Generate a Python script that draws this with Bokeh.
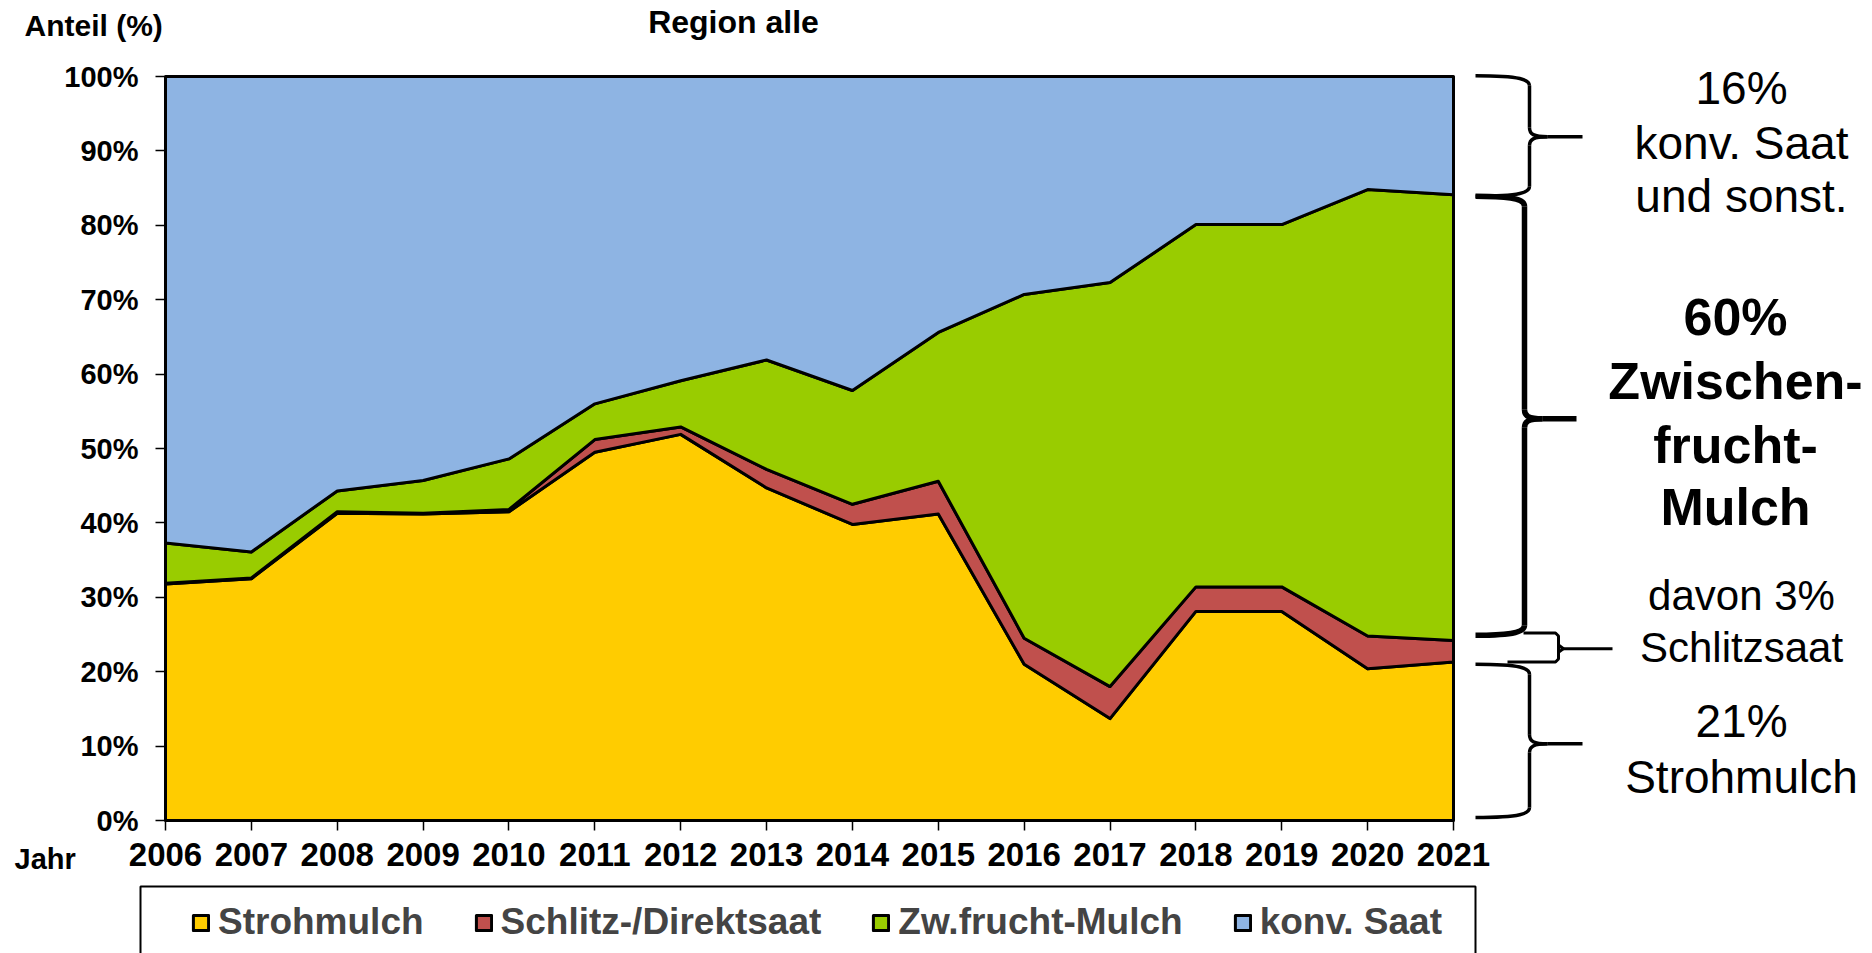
import numpy as np
from bokeh.plotting import figure
from bokeh.models import Range1d, FixedTicker, PrintfTickFormatter, Legend, LegendItem
from bokeh.embed import file_html
from bokeh.resources import INLINE
from bokeh.core.properties import value

# ---------------- data (percent of area) ----------------
years = list(range(2006, 2022))
year_labels = [str(y) for y in years]
strohmulch = [31.8, 32.5, 41.3, 41.2, 41.5, 49.5, 51.9, 44.7, 39.8, 41.2, 21.0, 13.7, 28.1, 28.1, 20.4, 21.3]
schlitz    = [0.1, 0.1, 0.2, 0.1, 0.3, 1.7, 1.0, 2.5, 2.7, 4.4, 3.5, 4.3, 3.3, 3.3, 4.4, 2.9]
zwfrucht   = [5.4, 3.5, 2.8, 4.4, 6.8, 4.8, 6.2, 14.7, 15.3, 20.0, 46.2, 54.3, 48.7, 48.7, 60.0, 59.9]
konv       = [62.7, 63.9, 55.7, 54.3, 51.4, 44.0, 40.9, 38.1, 42.2, 34.4, 29.3, 27.7, 19.9, 19.9, 15.2, 15.9]
series_names = ["Strohmulch", "Schlitz-/Direktsaat", "Zw.frucht-Mulch", "konv. Saat"]
series_colors = ["#FFCC00", "#C0504D", "#99CC00", "#8EB4E3"]
y_ticks = list(range(0, 101, 10))

FONT = "Liberation Sans"

# ---------------- layout geometry (pixels) ----------------
W, H = 1872, 953
FL, FR, FT, FB = 165, 1453, 76, 820          # chart area in canvas pixels
XPX = (FR - FL) / (years[-1] - years[0])     # pixels per year
YPX = (FB - FT) / 100.0                      # pixels per percent


def X(px):
    return years[0] + (px - FL) / XPX


def Y(py):
    return (FB - py) / YPX


p = figure(width=W, height=H, x_range=Range1d(X(0), X(W)), y_range=Range1d(Y(H), Y(0)),
           toolbar_location=None, output_backend="svg", min_border=0)
p.grid.visible = False
p.outline_line_color = None
p.background_fill_color = "white"
p.border_fill_color = "white"

# ---------------- stacked areas ----------------
series = [strohmulch, schlitz, zwfrucht, konv]
renderers = []
lower = np.zeros(len(years))
for vals, col in zip(series, series_colors):
    upper = lower + np.array(vals)
    xs = years + years[::-1]
    ys = list(upper) + list(lower[::-1])
    r = p.patch(x=xs, y=ys, fill_color=col, line_color="black", line_width=3, line_join="round")
    renderers.append(r)
    lower = upper

# ---------------- axes ----------------
p.xaxis.ticker = FixedTicker(ticks=years)
p.xaxis.major_label_overrides = {y: s for y, s in zip(years, year_labels)}
p.yaxis.ticker = FixedTicker(ticks=y_ticks)
p.yaxis.formatter = PrintfTickFormatter(format="%d%%")
p.xaxis.fixed_location = 0
p.yaxis.fixed_location = years[0]
p.xaxis.bounds = (years[0], years[-1])
p.yaxis.bounds = (0, 100)
for ax in (p.xaxis[0], p.yaxis[0]):
    ax.axis_line_color = "black"
    ax.axis_line_width = 2
    ax.major_tick_line_color = "black"
    ax.major_tick_line_width = 1.5
    ax.major_tick_in = 0
    ax.major_tick_out = 10
    ax.minor_tick_line_color = None
    ax.major_label_text_font = FONT
    ax.major_label_text_font_style = "bold"
    ax.major_label_text_color = "black"
p.xaxis.major_label_text_font_size = "33px"
p.xaxis.major_label_standoff = 12
p.yaxis.major_label_text_font_size = "29px"
p.yaxis.major_label_standoff = 17

# ---------------- header / axis captions ----------------
p.text(x=[X(24)], y=[Y(25)], text=["Anteil (%)"], text_font=value(FONT), text_font_style="bold",
       text_font_size="30px", text_align="left", text_baseline="middle", text_color="black")
p.text(x=[X(733)], y=[Y(21)], text=["Region alle"], text_font=value(FONT), text_font_style="bold",
       text_font_size="32px", text_align="center", text_baseline="middle", text_color="black")
p.text(x=[X(14)], y=[Y(858)], text=["Jahr"], text_font=value(FONT), text_font_style="bold",
       text_font_size="29px", text_align="left", text_baseline="middle", text_color="black")


# ---------------- braces on the right ----------------
def brace(top, bottom, tip, x_end, x_spine, x_tip, lw, r_end=10, r_tip=9, tip_len=18):
    re = r_end / YPX
    rt = r_tip / YPX
    bz = [
        (x_end, top, x_spine, top - re, x_spine - 8, top, x_spine, top - re * 0.4),
        (x_spine, tip + rt, x_spine + tip_len, tip, x_spine, tip + rt * 0.3, x_spine + 4, tip),
        (x_spine, tip - rt, x_spine + tip_len, tip, x_spine, tip - rt * 0.3, x_spine + 4, tip),
        (x_end, bottom, x_spine, bottom + re, x_spine - 8, bottom, x_spine, bottom + re * 0.4),
    ]
    c = list(zip(*bz))
    p.bezier(x0=[X(v) for v in c[0]], y0=c[1], x1=[X(v) for v in c[2]], y1=c[3],
             cx0=[X(v) for v in c[4]], cy0=c[5], cx1=[X(v) for v in c[6]], cy1=c[7],
             line_color="black", line_width=lw)
    sg = [
        (x_spine, top - re, x_spine, tip + rt),
        (x_spine, tip - rt, x_spine, bottom + re),
        (x_spine + tip_len, tip, x_tip, tip),
    ]
    c = list(zip(*sg))
    p.segment(x0=[X(v) for v in c[0]], y0=c[1], x1=[X(v) for v in c[2]], y1=c[3],
              line_color="black", line_width=lw)


brace(100.1, 83.9, 91.9, 1475, 1529, 1582, 3.5)
brace(83.9, 24.9, 54.0, 1475, 1524, 1576, 5.5)
brace(21.0, 0.4, 10.3, 1475, 1529, 1582, 3.5)
# small square bracket for "Schlitzsaat"
p.line(x=[X(v) for v in [1523, 1555, 1558, 1558, 1555, 1507]], y=[25.2, 25.2, 24.8, 21.7, 21.3, 21.3],
       line_color="black", line_width=3)
p.line(x=[X(v) for v in [1558, 1563, 1558]], y=[23.6, 23.1, 22.6], line_color="black", line_width=3)
p.segment(x0=[X(1560)], y0=[23.1], x1=[X(1612)], y1=[23.1], line_color="black", line_width=3)

normal_txt = ["16%", "konv. Saat", "und sonst.", "21%", "Strohmulch"]
normal_y = [98.5, 91.0, 84.0, 13.4, 5.9]
p.text(x=[X(1741)] * len(normal_txt), y=normal_y, text=normal_txt, text_font=value(FONT),
       text_font_size="46px", text_align="center", text_baseline="middle", text_color="black")
small_txt = ["davon 3%", "Schlitzsaat"]
small_y = [30.2, 23.25]
p.text(x=[X(1741)] * 2, y=small_y, text=small_txt, text_font=value(FONT),
       text_font_size="42px", text_align="center", text_baseline="middle", text_color="black")
bold_txt = ["60%", "Zwischen-", "frucht-", "Mulch"]
bold_y = [67.7, 59.1, 50.5, 42.1]
p.text(x=[X(1735)] * 4, y=bold_y, text=bold_txt, text_font=value(FONT), text_font_style="bold",
       text_font_size="52px", text_align="center", text_baseline="middle", text_color="black")

# ---------------- legend ----------------
p.quad(left=[X(140)], right=[X(1475)], top=[Y(886)], bottom=[Y(975)], fill_color=None,
       line_color="black", line_width=2)
items = [LegendItem(label=name, renderers=[r]) for name, r in zip(series_names, renderers)]
leg = Legend(items=items, orientation="horizontal", location=(191, 10),
             label_text_font=FONT, label_text_font_size="37px", label_text_font_style="bold",
             glyph_width=19, glyph_height=19, label_standoff=8, spacing=50, padding=0, margin=0,
             border_line_color=None, background_fill_alpha=0)
p.add_layout(leg)

open("out.html", "w").write(file_html(p, INLINE))
